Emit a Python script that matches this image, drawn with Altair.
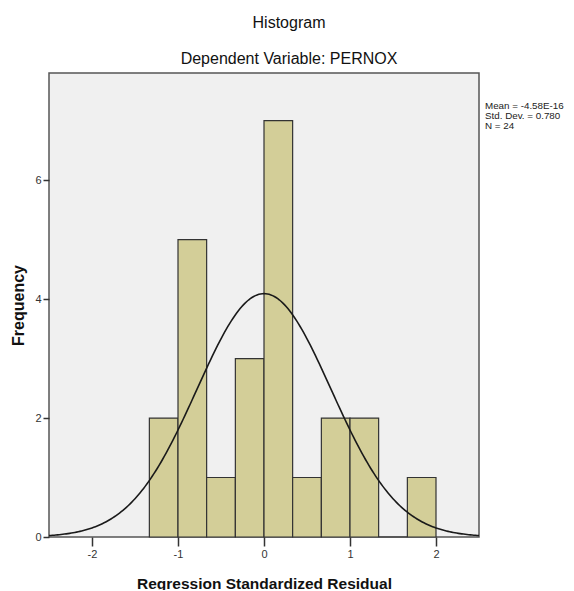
import altair as alt
import pandas as pd
import numpy as np

# Histogram bins (regression standardized residuals) and counts
bin_starts = [-1.333, -1.0, -0.667, -0.333, 0.0, 0.333, 0.667, 1.0, 1.333, 1.667]
bin_ends = [-1.0, -0.667, -0.333, 0.0, 0.333, 0.667, 1.0, 1.333, 1.667, 2.0]
counts = [2, 5, 1, 3, 7, 1, 2, 2, 0, 1]

# Summary statistics shown in the chart
mean_val = -4.58e-16
std_dev = 0.780
n_obs = 24
bin_width = 0.3333

stat_lines = ["Mean = -4.58E-16", "Std. Dev. = 0.780", "N = 24"]
x_ticks = [-2, -1, 0, 1, 2]
y_ticks = [0, 2, 4, 6]

bars_df = pd.DataFrame({"start": bin_starts, "end": bin_ends, "count": counts})

# fitted normal curve from the stated mean / std. dev. / N
xs = np.linspace(-2.5, 2.5, 251)
ys = n_obs * bin_width * np.exp(-0.5 * ((xs - mean_val) / std_dev) ** 2) / (std_dev * np.sqrt(2 * np.pi))
curve_df = pd.DataFrame({"x": xs, "y": ys})

stats_df = pd.DataFrame({"t": ["\n".join(stat_lines)]})

xscale = alt.Scale(domain=[-2.5, 2.5], nice=False, zero=False)
yscale = alt.Scale(domain=[0, 7.8], nice=False)

xaxis = alt.Axis(values=x_ticks, title="Regression Standardized Residual", grid=False, domain=False,
                 labelExpr="'' + datum.value",
                 tickSize=9, tickColor="#333333", tickWidth=1.5, labelFontSize=11, labelColor="#333333",
                 labelPadding=2, titleFontSize=15.5, titleFontWeight="bold", titleColor="#111111",
                 titleY=51, titleBaseline="alphabetic")
yaxis = alt.Axis(values=y_ticks, title="Frequency", grid=False, domain=False,
                 labelExpr="'' + datum.value",
                 tickSize=6, tickColor="#333333", tickWidth=1.5, labelFontSize=11, labelColor="#333333",
                 labelPadding=2, titleFontSize=16, titleFontWeight="bold", titleColor="#111111",
                 titleX=-31, titleBaseline="middle")

bars = alt.Chart(bars_df).mark_bar(fill="#d3ce98", stroke="#333333", strokeWidth=1.2).encode(
    x=alt.X("start:Q", scale=xscale, axis=xaxis),
    x2="end:Q",
    y=alt.Y("count:Q", scale=yscale, axis=yaxis),
    y2=alt.datum(0),
)

curve = alt.Chart(curve_df).mark_line(color="#1a1a1a", strokeWidth=1.6).encode(
    x=alt.X("x:Q", scale=xscale),
    y=alt.Y("y:Q", scale=yscale),
)

stats = alt.Chart(stats_df).mark_text(align="left", baseline="top", fontSize=9.8, lineHeight=10,
                                      lineBreak="\n", color="#222222").encode(
    x=alt.value(436), y=alt.value(28), text="t:N"
)

chart = alt.layer(bars, curve, stats).properties(
    width=430, height=464,
    autosize="none",
    padding={"left": 41, "top": 65, "right": 87, "bottom": 53},
    title=alt.TitleParams(text="Histogram", subtitle="Dependent Variable: PERNOX", anchor="middle",
                          frame="group", dx=25, fontSize=16, fontWeight="normal", color="#111111",
                          subtitleFontSize=16, subtitleColor="#111111", subtitlePadding=20, offset=6),
).configure(font="Liberation Sans").configure_view(fill="#f0f0f0", stroke="#555555", strokeWidth=1.5)

chart.save("out.html", embed_options={"renderer": "svg", "actions": False})
